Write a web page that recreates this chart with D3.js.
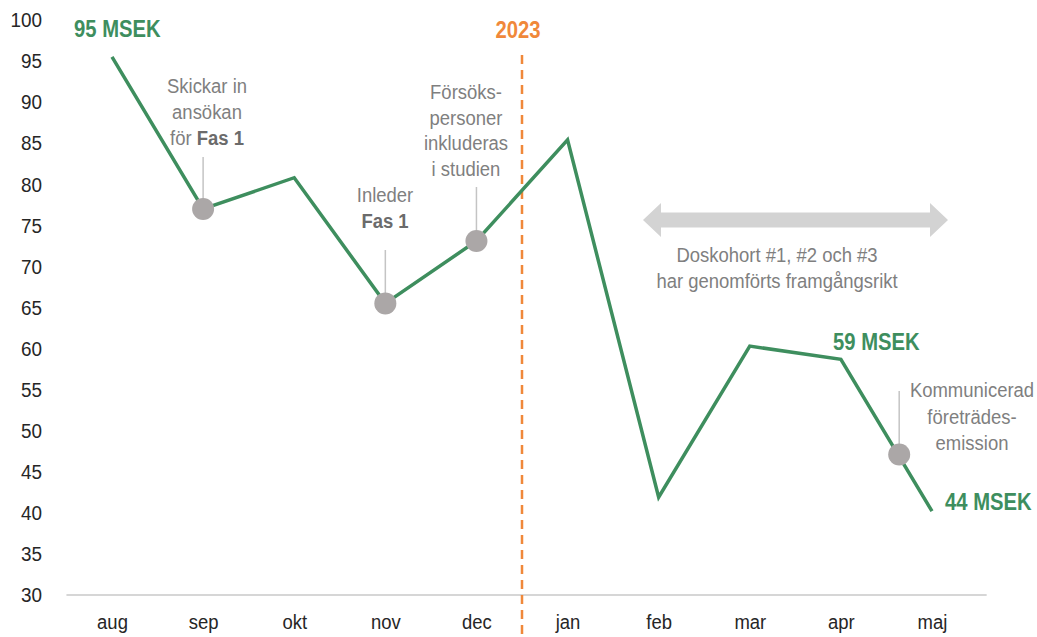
<!DOCTYPE html>
<html>
<head>
<meta charset="utf-8">
<script src="https://cdn.jsdelivr.net/npm/d3@7"></script>
<style>
  body { margin: 0; background: #fff; }
  svg text { font-family: "Liberation Sans", Arial, sans-serif; }
</style>
</head>
<body>
<svg id="chart" width="1037" height="637"></svg>
<script>
// months on the x axis
var months = ["aug", "sep", "okt", "nov", "dec", "jan", "feb", "mar", "apr", "maj"];
// cash position, MSEK
var values = [95.5, 77, 80.8, 65.5, 73.1, 85.4, 41.9, 60.3, 58.7, 40.2];
// y tick labels
var yTicks = [30, 35, 40, 45, 50, 55, 60, 65, 70, 75, 80, 85, 90, 95, 100];
// grey event markers (month position, value)
var markerPos = [1, 3, 4, 8.64];
var markerVal = [77, 65.5, 73.1, 47.1];
// value labels in green
var valueLabels = ["95 MSEK", "59 MSEK", "44 MSEK"];

var svg = d3.select("#chart");
var green = "#3e8e5e", grey = "#7f7f7f", orange = "#f0883a";
var narrow = 0.88; // squeeze text to mimic a narrow font

var x = d3.scaleLinear().domain([0, months.length - 1]).range([112, 932]);
var y = d3.scaleLinear().domain([30, 100]).range([595, 20]);

// squeezed text at a point
function label(px, py, size, anchor) {
  return svg.append("text")
    .attr("transform", "translate(" + px + "," + py + ") scale(" + narrow + ",1)")
    .attr("text-anchor", anchor || "start")
    .attr("font-size", size);
}

// y axis labels
var yAxis = svg.append("g")
  .attr("transform", "translate(42,0)")
  .call(d3.axisLeft(y).tickValues(yTicks).tickSize(0).tickPadding(0));
yAxis.select(".domain").remove();
yAxis.selectAll("text").attr("font-size", 21).attr("fill", "#262626")
  .attr("transform", "scale(0.9,1)");

// x axis labels
var xAxis = svg.append("g")
  .attr("transform", "translate(0,595)")
  .call(d3.axisBottom(x).tickValues(d3.range(months.length)).tickFormat(function(i) { return months[i]; }).tickSize(0).tickPadding(19));
xAxis.select(".domain").remove();
xAxis.selectAll("text").attr("font-size", 21).attr("fill", "#262626")
  .attr("transform", "scale(0.88,1)");

// baseline
svg.append("line")
  .attr("x1", x(-0.5)).attr("x2", x(9.6))
  .attr("y1", y(30)).attr("y2", y(30))
  .attr("stroke", "#d6d6d6").attr("stroke-width", 2);

// 2023 divider
svg.append("line")
  .attr("x1", x(4.5)).attr("x2", x(4.5))
  .attr("y1", 55).attr("y2", 637)
  .attr("stroke", orange).attr("stroke-width", 2.5)
  .attr("stroke-dasharray", "9,6");
label(518, 38, 23, "middle")
  .attr("font-weight", "bold")
  .attr("fill", orange)
  .text("2023");

// double arrow
var ay = 220, ax1 = 643, ax2 = 948, head = 18, shaft = 7.5, wing = 17;
svg.append("path")
  .attr("d", "M" + ax1 + "," + ay +
    " L" + (ax1 + head) + "," + (ay - wing) + " L" + (ax1 + head) + "," + (ay - shaft) +
    " L" + (ax2 - head) + "," + (ay - shaft) + " L" + (ax2 - head) + "," + (ay - wing) +
    " L" + ax2 + "," + ay +
    " L" + (ax2 - head) + "," + (ay + wing) + " L" + (ax2 - head) + "," + (ay + shaft) +
    " L" + (ax1 + head) + "," + (ay + shaft) + " L" + (ax1 + head) + "," + (ay + wing) + " Z")
  .attr("fill", "#d3d3d3");

// annotations: centre x, first baseline, line gap, lines (second part bold)
var notes = [
  { x: 207, y: 93, gap: 26, lines: [["Skickar in"], ["ansökan"], ["för ", "Fas 1"]] },
  { x: 385, y: 202, gap: 25.5, lines: [["Inleder"], ["", "Fas 1"]] },
  { x: 466, y: 99, gap: 25.5, lines: [["Försöks-"], ["personer"], ["inkluderas"], ["i studien"]] },
  { x: 777, y: 262, gap: 26, lines: [["Doskohort #1, #2 och #3"], ["har genomförts framgångsrikt"]] },
  { x: 972, y: 397, gap: 26.5, lines: [["Kommunicerad"], ["företrädes-"], ["emission"]] }
];
notes.forEach(function(n) {
  n.lines.forEach(function(parts, i) {
    var t = label(n.x, n.y + i * n.gap, 21, "middle").attr("fill", grey);
    t.append("tspan").text(parts[0]);
    if (parts[1]) t.append("tspan").attr("font-weight", "bold").attr("fill", "#6b6b6b").text(parts[1]);
  });
});

// leader lines above markers
var leaderTop = [157, 250, 187, 391];
markerPos.forEach(function(p, i) {
  svg.append("line")
    .attr("x1", x(p)).attr("x2", x(p))
    .attr("y1", leaderTop[i]).attr("y2", y(markerVal[i]))
    .attr("stroke", "#c4c4c4").attr("stroke-width", 1.5);
});

// main line
var line = d3.line().x(function(d, i) { return x(i); }).y(function(d) { return y(d); });
svg.append("path")
  .datum(values)
  .attr("d", line)
  .attr("fill", "none")
  .attr("stroke", green)
  .attr("stroke-width", 3.5)
  .attr("stroke-linejoin", "miter");

// markers
svg.selectAll("circle.marker")
  .data(markerPos)
  .enter().append("circle")
  .attr("class", "marker")
  .attr("cx", function(d) { return x(d); })
  .attr("cy", function(d, i) { return y(markerVal[i]); })
  .attr("r", 11)
  .attr("fill", "#aba7a7");

// value labels
var labelPos = [[74, 37], [833, 350], [945, 510]];
valueLabels.forEach(function(s, i) {
  label(labelPos[i][0], labelPos[i][1], 23)
    .attr("font-weight", "bold")
    .attr("fill", green)
    .text(s);
});
</script>
</body>
</html>
